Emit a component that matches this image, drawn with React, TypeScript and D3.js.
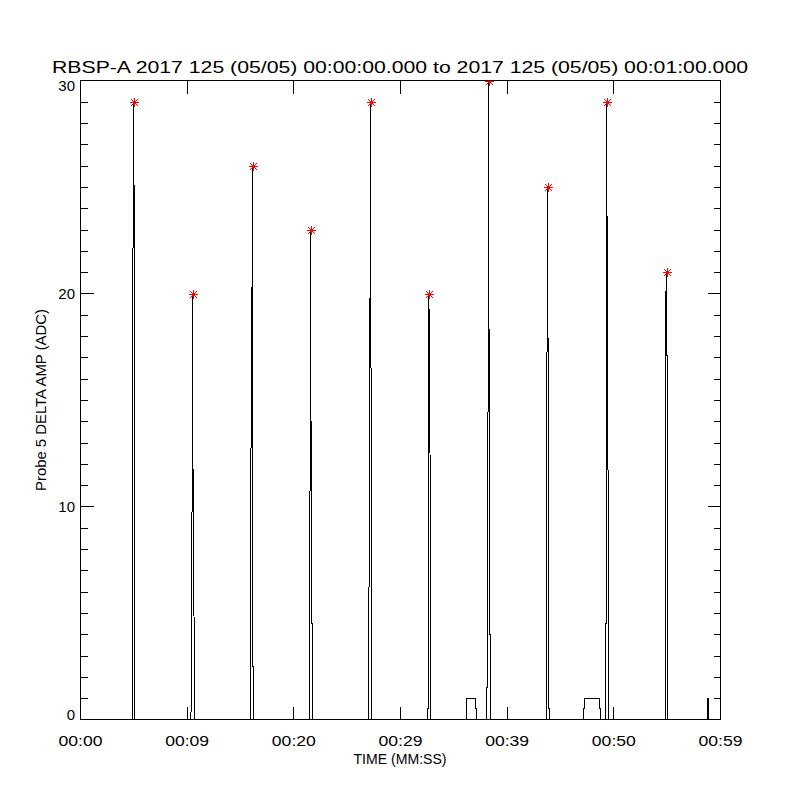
import React from "react";
import * as d3 from "d3";

// ---- data (time in seconds from 00:00:00, value in ADC) ----
const titleText =
  "RBSP-A 2017 125 (05/05) 00:00:00.000 to 2017 125 (05/05) 00:01:00.000";
const yAxisTitle = "Probe 5 DELTA AMP (ADC)";
const xAxisTitle = "TIME (MM:SS)";

const xTickValues = [0, 10, 20, 30, 40, 50, 60];
const xTickLabels = ["00:00", "00:09", "00:20", "00:29", "00:39", "00:50", "00:59"];
const yTickValues = [0, 10, 20, 30];
const yTickLabels = ["0", "10", "20", "30"];
const yMinorStep = 1;

const pulse1: [number, number][] = [[4.88, 0], [4.9, 20], [5.0, 29], [5.03, 22], [5.08, 20], [5.1, 0]];
const pulse2: [number, number][] = [[10.34, 0], [10.37, 0.5], [10.41, 9], [10.5, 10.5], [10.53, 20], [10.55, 10.5], [10.6, 9], [10.68, 1], [10.71, 1], [10.72, 0]];
const pulse3: [number, number][] = [[15.96, 0], [15.97, 11.5], [16.12, 23.5], [16.15, 26], [16.16, 11.5], [16.17, 2.5], [16.22, 2.5], [16.23, 0]];
const pulse4: [number, number][] = [[21.47, 0], [21.48, 4.5], [21.55, 16], [21.59, 23], [21.6, 16], [21.66, 4.5], [21.72, 4.5], [21.73, 0]];
const pulse5: [number, number][] = [[27.02, 0], [27.03, 5], [27.09, 9], [27.14, 19.5], [27.22, 29], [27.23, 19.5], [27.25, 9], [27.3, 9], [27.31, 0]];
const pulse6: [number, number][] = [[32.52, 0], [32.53, 0.5], [32.59, 0.5], [32.6, 11.5], [32.64, 19.5], [32.65, 20], [32.67, 19.5], [32.78, 11.5], [32.83, 11.5], [32.84, 0]];
const box1: [number, number][] = [[36.2, 0], [36.22, 1], [37.04, 1], [37.06, 0.5], [37.14, 0.5], [37.15, 0]];
const pulse7: [number, number][] = [[38.07, 0], [38.08, 1.5], [38.17, 1.5], [38.18, 12], [38.25, 19], [38.28, 30], [38.29, 19], [38.37, 12], [38.38, 4], [38.43, 4], [38.44, 0]];
const pulse8: [number, number][] = [[43.71, 0], [43.72, 17], [43.78, 18], [43.81, 25], [43.82, 18], [43.9, 17], [43.91, 0.5], [43.99, 0.5], [44.0, 0]];
const box2: [number, number][] = [[47.17, 0], [47.18, 0.5], [47.27, 0.5], [47.28, 1], [48.68, 1], [48.69, 0.5], [48.77, 0.5], [48.78, 0]];
const pulse9: [number, number][] = [[49.24, 0], [49.25, 4.5], [49.3, 4.5], [49.31, 11], [49.33, 25], [49.34, 29], [49.35, 25], [49.46, 11], [49.52, 11], [49.53, 0]];
const pulse10: [number, number][] = [[54.81, 0], [54.82, 10], [54.88, 20], [54.97, 21], [54.98, 20], [55.0, 10], [55.01, 2], [55.03, 2], [55.04, 0]];
const pulse11: [number, number][] = [[58.74, 0], [58.75, 0.5], [58.8, 0.5], [58.81, 1], [58.89, 1], [58.9, 0]];

const peakTimes = [5.0, 10.53, 16.15, 21.59, 27.22, 32.65, 38.28, 43.81, 49.34, 54.97];
const peakValues = [29, 20, 26, 23, 29, 20, 30, 25, 29, 21];

const series: [number, number][] = [
  [0, 0],
  ...pulse1, ...pulse2, ...pulse3, ...pulse4, ...pulse5, ...pulse6,
  ...box1, ...pulse7, ...pulse8, ...box2, ...pulse9, ...pulse10, ...pulse11,
  [60, 0],
];

// ---- layout ----
const W = 800;
const H = 800;
const left = 80.5;
const right = 720.5;
const top = 80.5;
const bottom = 719.5;
const majorLen = 13;
const minorLen = 7;
const font = "'Liberation Sans', Arial, sans-serif";

export default function App() {
  const x = d3.scaleLinear().domain([0, 60]).range([left, right]);
  const y = d3.scaleLinear().domain([0, 30]).range([bottom, top]);
  const line = d3
    .line<[number, number]>()
    .x((d) => x(d[0]))
    .y((d) => y(d[1]));

  const minorY = d3.range(0, 30 + 1e-9, yMinorStep).filter((v) => v % 10 !== 0);

  return (
    <svg
      width={W}
      height={H}
      style={{ position: "absolute", left: 0, top: 0, background: "#fff" }}
    >
      <rect x={0} y={0} width={W} height={H} fill="#fff" />
      <defs>
        <clipPath id="plotClip">
          <rect x={left - 0.5} y={top - 0.5} width={right - left + 1} height={bottom - top + 1} />
        </clipPath>
      </defs>

      {/* title */}
      <text
        x={400}
        y={73}
        textAnchor="middle"
        fontFamily={font}
        fontSize={17}
        textLength={696}
        lengthAdjust="spacingAndGlyphs"
        fill="#000"
      >
        {titleText}
      </text>

      {/* data */}
      <g clipPath="url(#plotClip)">
        <path d={line(series) || ""} fill="none" stroke="#000" strokeWidth={1} shapeRendering="crispEdges" />
        {peakTimes.map((t, i) => (
          <g key={i} transform={`translate(${Math.round(x(t))},${Math.round(y(peakValues[i]))})`} stroke="#ff0000" strokeWidth={1} shapeRendering="crispEdges">
            <path d="M-4,0.5H4.5M0.5,-4V4.5M-3,-3L4,4M-3,4L4,-3" fill="none" />
          </g>
        ))}
      </g>

      {/* axes box */}
      <g stroke="#000" strokeWidth={1} shapeRendering="crispEdges" fill="none">
        <rect x={left} y={top} width={right - left} height={bottom - top} />
        {xTickValues.map((v) => (
          <g key={"xt" + v}>
            <line x1={x(v)} x2={x(v)} y1={bottom} y2={bottom - majorLen} />
            <line x1={x(v)} x2={x(v)} y1={top} y2={top + majorLen} />
          </g>
        ))}
        {yTickValues.map((v) => (
          <g key={"yt" + v}>
            <line x1={left} x2={left + majorLen} y1={y(v)} y2={y(v)} />
            <line x1={right} x2={right - majorLen} y1={y(v)} y2={y(v)} />
          </g>
        ))}
        {minorY.map((v) => (
          <g key={"ym" + v}>
            <line x1={left} x2={left + minorLen} y1={Math.round(y(v)) + 0.5} y2={Math.round(y(v)) + 0.5} />
            <line x1={right} x2={right - minorLen} y1={Math.round(y(v)) + 0.5} y2={Math.round(y(v)) + 0.5} />
          </g>
        ))}
      </g>

      {/* tick labels */}
      <g fontFamily={font} fontSize={15} fill="#000">
        {xTickValues.map((v, i) => (
          <text
            key={"xl" + v}
            x={x(v)}
            y={746}
            textAnchor="middle"
            textLength={44}
            lengthAdjust="spacingAndGlyphs"
          >
            {xTickLabels[i]}
          </text>
        ))}
        {yTickValues.map((v, i) => (
          <text
            key={"yl" + v}
            x={75}
            y={Math.min(Math.max(y(v), top + 5), bottom - 5) + 5.5}
            textAnchor="end"
          >
            {yTickLabels[i]}
          </text>
        ))}
        <text x={400} y={764} textAnchor="middle" textLength={93} lengthAdjust="spacingAndGlyphs">
          {xAxisTitle}
        </text>
        <text
          transform={`translate(46,400) rotate(-90)`}
          textAnchor="middle"
          textLength={182}
          lengthAdjust="spacingAndGlyphs"
        >
          {yAxisTitle}
        </text>
      </g>
    </svg>
  );
}
